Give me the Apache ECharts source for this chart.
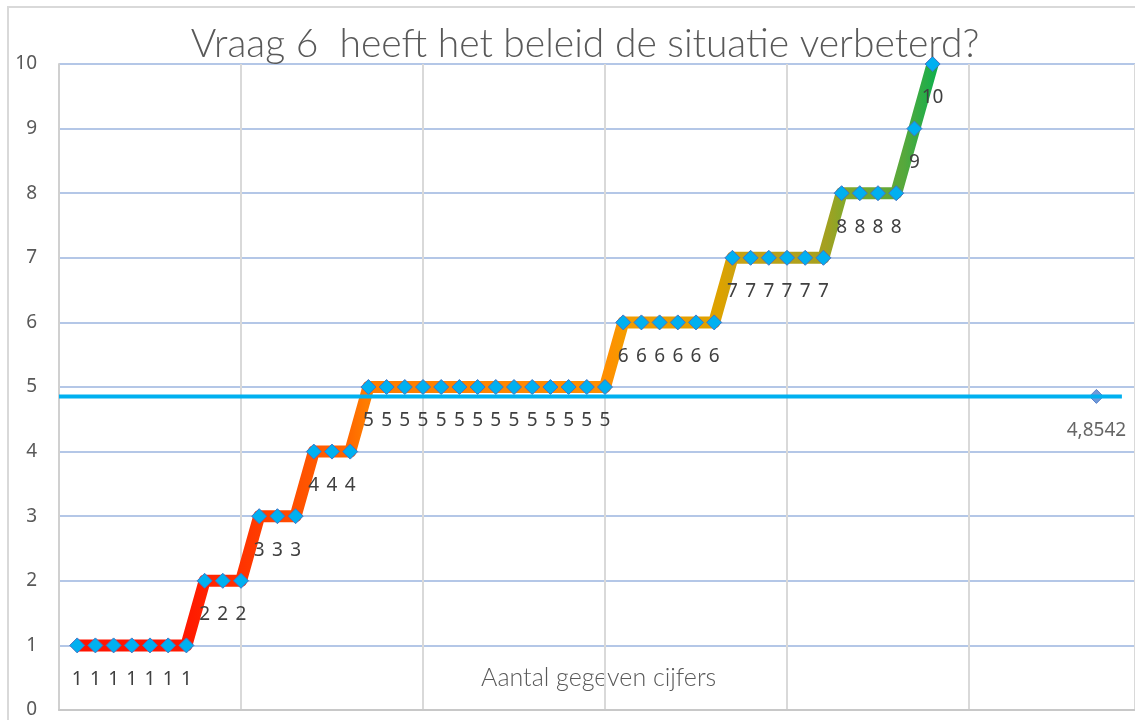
<!DOCTYPE html>
<html>
<head>
<meta charset="utf-8">
<script src="https://cdn.jsdelivr.net/npm/echarts@6/dist/echarts.min.js"></script>
<style>
  html, body { margin: 0; padding: 0; background: #fff; }
  #chart { width: 1135px; height: 720px; }
</style>
</head>
<body>
<div id="chart"></div>
<script>
// cijfers per respondent, gesorteerd (positie 1..48)
const scores = [1,1,1,1,1,1,1,2,2,2,3,3,3,4,4,4,5,5,5,5,5,5,5,5,5,5,5,5,5,5,6,6,6,6,6,6,7,7,7,7,7,7,8,8,8,8,9,10]
const meanValue = 4.8542
const meanPointX = 57
const meanLineX = [0, 58.4]
const yTicks = [0,1,2,3,4,5,6,7,8,9,10]
// zichtbaar deel van de x-as (rest valt buiten het beeld)
const xRange = [0, 59.12]

let chart = echarts.init(document.getElementById('chart'))
let textColor = '#595959'
let font = 'Noto Sans'

let lineData = scores.map((v, i) => [i + 1, v])

chart.setOption({
  animation: false,
  title: {
    text: 'Vraag 6  heeft het beleid de situatie verbeterd?',
    left: 580,
    top: 20,
    textAlign: 'center',
    textStyle: { color: textColor, fontSize: 39, fontWeight: 300, fontFamily: 'Lato' }
  },
  graphic: [
    {
      type: 'rect',
      shape: { x: 8, y: 7, width: 1300, height: 900 },
      style: { fill: 'none', stroke: '#d9d9d9', lineWidth: 2 },
      silent: true
    },
    {
      type: 'text',
      left: 481,
      top: 665,
      style: { text: 'Aantal gegeven cijfers', fill: textColor, fontSize: 25, fontFamily: 'Lato', fontWeight: 300 }
    }
  ],
  grid: { left: 59, right: 0, top: 64, bottom: 10 },
  xAxis: {
    type: 'value',
    min: xRange[0],
    max: xRange[1],
    interval: 10,
    axisLine: { show: true, lineStyle: { color: '#c8c8c8', width: 2 } },
    axisTick: { show: false },
    axisLabel: { show: false },
    splitLine: { show: true, lineStyle: { color: '#d9d9d9', width: 2 } }
  },
  yAxis: {
    type: 'value',
    min: yTicks[0],
    max: yTicks[yTicks.length - 1],
    interval: 1,
    axisLine: { show: true, lineStyle: { color: '#d0d0d0', width: 2 } },
    axisTick: { show: false },
    axisLabel: { color: textColor, fontSize: 19, fontFamily: font, margin: 22 },
    splitLine: { show: true, lineStyle: { color: '#b4c7e7', width: 2 } }
  },
  series: [
    {
      name: 'cijfers',
      type: 'line',
      data: lineData,
      symbol: 'diamond',
      symbolSize: 15,
      z: 3,
      lineStyle: {
        width: 12,
        join: 'round',
        color: new echarts.graphic.LinearGradient(0, 0, 1, 0, [
          { offset: 0, color: '#ff1200' },
          { offset: 0.13, color: '#ff1800' },
          { offset: 0.19, color: '#ff3000' },
          { offset: 0.26, color: '#ff5000' },
          { offset: 0.32, color: '#ff6800' },
          { offset: 0.34, color: '#ff7c00' },
          { offset: 0.62, color: '#ff9000' },
          { offset: 0.64, color: '#f29c00' },
          { offset: 0.75, color: '#dca200' },
          { offset: 0.77, color: '#c8a214' },
          { offset: 0.87, color: '#a4a020' },
          { offset: 0.89, color: '#84a82a' },
          { offset: 0.96, color: '#56a83c' },
          { offset: 1, color: '#0cb04e' }
        ])
      },
      itemStyle: { color: '#00b0f0', borderColor: '#4472c4', borderWidth: 1 },
      label: {
        show: true,
        position: 'inside',
        offset: [0, 34],
        color: '#404040',
        fontSize: 19,
        fontFamily: font
      }
    },
    {
      name: 'gemiddelde punt',
      type: 'scatter',
      data: [[meanPointX, meanValue]],
      symbol: 'diamond',
      symbolSize: 14,
      z: 2,
      itemStyle: { color: '#4a7fd0', borderColor: '#4472c4', borderWidth: 1 },
      label: {
        show: true,
        position: 'inside',
        offset: [0, 34],
        formatter: () => String(meanValue).replace('.', ','),
        color: '#404040',
        fontSize: 19,
        fontFamily: font
      }
    },
    {
      name: 'gemiddelde',
      type: 'line',
      data: meanLineX.map(x => [x, meanValue]),
      symbol: 'none',
      z: 4,
      lineStyle: { color: '#00b0f0', width: 4 }
    }
  ]
})
</script>
</body>
</html>
